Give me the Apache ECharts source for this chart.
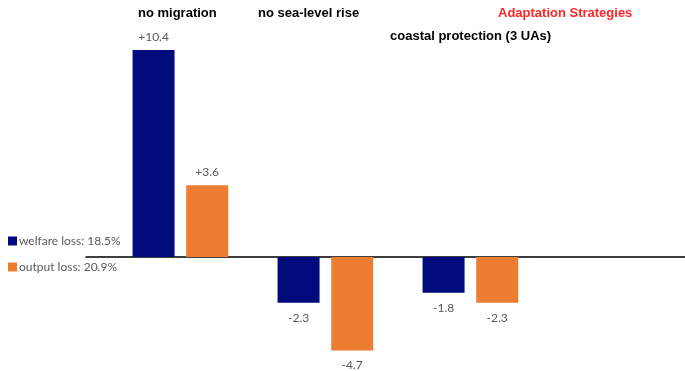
<!DOCTYPE html>
<html>
<head>
<meta charset="utf-8">
<script src="https://cdn.jsdelivr.net/npm/echarts@6/dist/echarts.min.js"></script>
<style>
  html, body { margin: 0; padding: 0; background: #fff; }
  #chart { width: 685px; height: 371px; }
</style>
</head>
<body>
<div id="chart"></div>
<script>
// Scenario groups along the horizontal axis
const scenarios = ['no migration', 'no sea-level rise', 'coastal protection (3 UAs)'];
// Change relative to baseline, in percent
const welfareValues = [10.4, -2.3, -1.8];
const outputValues = [3.6, -4.7, -2.3];
const seriesNames = ['welfare loss: 18.5%', 'output loss: 20.9%'];
const seriesColors = ['#000a7a', '#ed7d31'];

// bars of each group sit at index + offset on a numeric x axis
const offsets = [0.466, 0.836];

function fmt(v) {
  return (v > 0 ? '+' : '') + v.toFixed(1);
}

function makeSeries(values, k) {
  return {
    name: seriesNames[k],
    type: 'bar',
    barWidth: 42,
    barGap: '-100%',
    itemStyle: { color: seriesColors[k] },
    data: values.map((v, i) => ({
      value: [i + offsets[k], v],
      label: {
        show: true,
        position: v >= 0 ? 'top' : 'bottom',
        distance: v >= 0 ? 7 : 9,
        formatter: fmt(v),
        color: '#595959',
        fontFamily: 'Lato, "Open Sans", sans-serif',
        fontSize: 12
      }
    }))
  };
}

const chart = echarts.init(document.getElementById('chart'));
chart.setOption({
  animation: false,
  grid: { left: 86, right: 0, top: 18.2, bottom: 14.5 },
  xAxis: {
    type: 'value',
    min: 0,
    max: 599 / 145,
    axisLine: { show: true, onZero: true, lineStyle: { color: '#000', width: 1.5 } },
    axisTick: { show: false },
    axisLabel: { show: false },
    splitLine: { show: false }
  },
  yAxis: {
    type: 'value',
    min: -5,
    max: 12,
    show: false
  },
  legend: {
    orient: 'vertical',
    left: 3,
    top: 230,
    itemGap: 14,
    itemWidth: 9,
    itemHeight: 9,
    icon: 'rect',
    textStyle: { color: '#595959', fontSize: 12, fontFamily: 'Lato, "Open Sans", sans-serif', padding: [0, 0, 0, -3] },
    data: seriesNames
  },
  graphic: [
    { type: 'text', left: 138, top: 7, style: { text: scenarios[0], font: 'bold 13px "Liberation Sans", Arial, sans-serif', fill: '#000' } },
    { type: 'text', left: 258, top: 7, style: { text: scenarios[1], font: 'bold 13px "Liberation Sans", Arial, sans-serif', fill: '#000' } },
    { type: 'text', left: 390, top: 30, style: { text: scenarios[2], font: 'bold 13px "Liberation Sans", Arial, sans-serif', fill: '#000' } },
    { type: 'text', left: 498, top: 7, style: { text: 'Adaptation Strategies', font: 'bold 13px "Liberation Sans", Arial, sans-serif', fill: '#ff2626' } }
  ],
  series: [makeSeries(welfareValues, 0), makeSeries(outputValues, 1)]
});
</script>
</body>
</html>
